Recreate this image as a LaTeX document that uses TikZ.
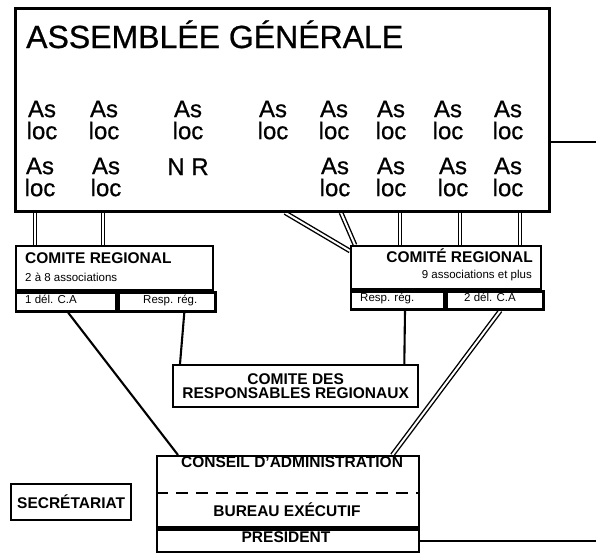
\documentclass[tikz,border=0pt]{standalone}
\usepackage{fontspec}
\setmainfont{Liberation Sans}
\newfontfamily\medfont[BoldFont={Liberation Sans}, BoldFeatures={FakeBold=0.7}]{Liberation Sans}
\usetikzlibrary{backgrounds}

\tikzset{
  box/.style={draw, line width=2.3pt, inner sep=0pt, anchor=north west},
  dbl/.style={double, double distance=2pt, line width=1.4pt},
  lnk/.style={line width=2.1pt},
  asloc/.style={font=\medfont\bfseries\fontsize{24}{22}\selectfont, align=center, inner sep=0pt},
  head/.style={font=\bfseries\fontsize{15.5}{14.5}\selectfont, inner sep=0pt},
  small/.style={font=\fontsize{11.5}{12}\selectfont, inner sep=0pt},
}

\begin{document}
\begin{tikzpicture}[x=1pt, y=-1pt]
    \useasboundingbox (0,0) rectangle (596,552);

    % assemblee generale
    \node[box, line width=2.6pt, minimum width=534pt, minimum height=203pt] (ag) at (14,7) {};
    \node[font=\medfont\bfseries\fontsize{32}{32}\selectfont, inner sep=0pt, anchor=base west] (agtitle) at (26,48) {ASSEMBLÉE GÉNÉRALE};

    \node[asloc] (a1) at (42,120) {As\\loc};
    \node[asloc] (a2) at (104,120) {As\\loc};
    \node[asloc] (a3) at (188,120) {As\\loc};
    \node[asloc] (a4) at (273,120) {As\\loc};
    \node[asloc] (a5) at (334,120) {As\\loc};
    \node[asloc] (a6) at (391,120) {As\\loc};
    \node[asloc] (a7) at (448,120) {As\\loc};
    \node[asloc] (a8) at (508,120) {As\\loc};

    \node[asloc] (b1) at (40,177) {As\\loc};
    \node[asloc] (b2) at (106,177) {As\\loc};
    \node[asloc, anchor=base] (nr) at (188,175) {N R};
    \node[asloc] (b5) at (335,177) {As\\loc};
    \node[asloc] (b6) at (391,177) {As\\loc};
    \node[asloc] (b7) at (453,177) {As\\loc};
    \node[asloc] (b8) at (508,177) {As\\loc};

    % comites regionaux
    \node[box, minimum width=197pt, minimum height=44pt] (crl) at (15,245) {};
    \node[box, minimum width=100pt, minimum height=19pt] (crlA) at (crl.south west) {};
    \node[box, minimum width=97pt, minimum height=19pt] (crlB) at (crlA.north east) {};
    \node[head, anchor=base west] (crltitle) at (25,263) {COMITE REGIONAL};
    \node[small, anchor=base west] (crlsub) at (25,281) {2 à 8 associations};
    \node[small, anchor=base west] (crlAtxt) at (25,303) {1 dél. C.A};
    \node[small, anchor=base west] (crlBtxt) at (143,303) {Resp. rég.};

    \node[box, minimum width=190pt, minimum height=43pt] (crr) at (350,245) {};
    \node[box, minimum width=93pt, minimum height=18pt] (crrA) at (crr.south west) {};
    \node[box, minimum width=97pt, minimum height=18pt] (crrB) at (crrA.north east) {};
    \node[head, anchor=base east] (crrtitle) at (533,262) {COMITÉ REGIONAL};
    \node[small, anchor=base east] (crrsub) at (532,278) {9 associations et plus};
    \node[small, anchor=base west] (crrAtxt) at (360,301) {Resp. rég.};
    \node[small, anchor=base] (crrBtxt) at (490,301) {2 dél. C.A};

    % responsables
    \node[box, head, align=center, minimum width=245pt, minimum height=42pt] (resp) at (172,364)
        {COMITE DES\\RESPONSABLES REGIONAUX};

    % conseil
    \node[box, minimum width=262pt, minimum height=71pt] (ca) at (156,455) {};
    \node[box, minimum width=262pt, minimum height=23pt] (pres) at (ca.south west) {};
    \node[head, anchor=base] (catxt) at (292,467) {CONSEIL D'ADMINISTRATION};
    \node[head, anchor=base] (betxt) at (287,516) {BUREAU EXÉCUTIF};
    \node[head, anchor=base] (prtxt) at (286,542) {PRÉSIDENT};
    \coordinate (cut) at (0,493);
    \draw[line width=2.3pt, dash pattern=on 12pt off 8pt] (ca.west |- cut) -- (ca.east |- cut);

    \node[box, head, minimum width=120pt, minimum height=36pt] (sec) at (10,483) {SECRÉTARIAT};

    \coordinate (agout) at (596,142);
    \coordinate (presout) at (596,538);

    \begin{scope}[on background layer]
        \draw[dbl] ([xshift=21pt]ag.south west) -- ([xshift=20pt]crl.north west);
        \draw[dbl] ([xshift=89pt]ag.south west) -- ([xshift=88pt]crl.north west);

        \draw[dbl] ([xshift=271pt]ag.south west) -- ([yshift=-6pt]crr.north west);
        \draw[dbl] ([xshift=327pt]ag.south west) -- ([xshift=5pt]crr.north west);
        \draw[dbl] ([xshift=386pt]ag.south west) -- ([xshift=50pt]crr.north west);
        \draw[dbl] ([xshift=446pt]ag.south west) -- ([xshift=110pt]crr.north west);
        \draw[dbl] ([xshift=506pt]ag.south west) -- ([xshift=170pt]crr.north west);

        \draw[lnk] ([xshift=2pt]crlA.south) -- ([xshift=22pt]ca.north west);
        \draw[lnk] ([xshift=67pt]crlB.south west) -- ([xshift=8pt]resp.north west);
        \draw[lnk] ([xshift=55pt]crrA.south west) -- ([xshift=-15pt]resp.north east);
        \draw[dbl] ([xshift=55pt]crrB.south west) -- ([xshift=-28pt]ca.north east);

        \draw[lnk] (ag.east |- agout) -- (agout);
        \draw[lnk] (pres.east) -- (pres.east -| presout);
    \end{scope}
\end{tikzpicture}
\end{document}
